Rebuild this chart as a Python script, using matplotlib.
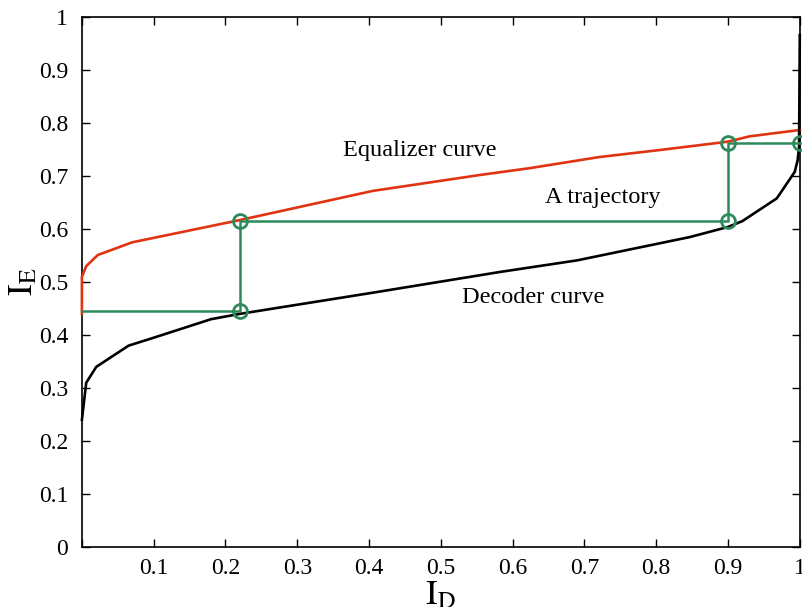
import numpy as np
import matplotlib
matplotlib.use("Agg")
import matplotlib.pyplot as plt

plt.rcParams['font.family'] = ['Liberation Serif', 'DejaVu Serif']
plt.rcParams['mathtext.fontset'] = 'stix'

# equalizer curve (red)
eq_x = [0.0, 0.0, 0.006, 0.022, 0.07, 0.22, 0.405, 0.554, 0.624, 0.721, 0.81, 0.9, 0.93, 1.0]
eq_y = [0.44, 0.51, 0.53, 0.551, 0.575, 0.617, 0.672, 0.702, 0.715, 0.736, 0.75, 0.765, 0.775, 0.787]

# decoder curve (black)
dec_x = [0.0, 0.006, 0.02, 0.065, 0.1, 0.18, 0.22, 0.41, 0.582, 0.69, 0.847, 0.9, 0.92, 0.968, 0.993, 0.997, 0.999, 1.0]
dec_y = [0.24, 0.31, 0.34, 0.38, 0.395, 0.43, 0.44, 0.481, 0.519, 0.541, 0.585, 0.604, 0.615, 0.658, 0.708, 0.73, 0.755, 0.966]

# trajectory (green)
tr_x = [0.0, 0.22, 0.22, 0.9, 0.9, 1.0]
tr_y = [0.445, 0.445, 0.615, 0.615, 0.762, 0.762]

xticks = [0.0, 0.1, 0.2, 0.3, 0.4, 0.5, 0.6, 0.7, 0.8, 0.9, 1.0]
xticklabels = ['', '0.1', '0.2', '0.3', '0.4', '0.5', '0.6', '0.7', '0.8', '0.9', '1']
yticks = [0.0, 0.1, 0.2, 0.3, 0.4, 0.5, 0.6, 0.7, 0.8, 0.9, 1.0]
yticklabels = ['0', '0.1', '0.2', '0.3', '0.4', '0.5', '0.6', '0.7', '0.8', '0.9', '1']

red = '#e03312'
green = '#2e8a5a'

fig = plt.figure(figsize=(8.03, 6.07), dpi=100)
ax = fig.add_axes([0.102, 0.0988, 0.894, 0.873])

ax.plot(eq_x, eq_y, color=red, lw=1.9, clip_on=False, zorder=3)
ax.plot(dec_x, dec_y, color='black', lw=1.9, clip_on=False, zorder=3)
ax.plot(tr_x, tr_y, color=green, lw=1.8, clip_on=False, zorder=4)
ax.plot(tr_x[1:], tr_y[1:], 'o', mfc='none', mec=green, mew=2, ms=10, clip_on=False, zorder=5)

ax.text(0.471, 0.749, 'Equalizer curve', fontsize=17.5, ha='center', va='center')
ax.text(0.726, 0.66, 'A trajectory', fontsize=17.5, ha='center', va='center')
ax.text(0.628, 0.47, 'Decoder curve', fontsize=17.5, ha='center', va='center')

ax.set_xlim(0, 1)
ax.set_ylim(0, 1)
ax.set_xticks(xticks)
ax.set_xticklabels(xticklabels)
ax.set_yticks(yticks)
ax.set_yticklabels(yticklabels)
ax.tick_params(direction='in', top=True, right=True, length=6, width=1, labelsize=17)
ax.tick_params(axis='y', pad=10)
ax.tick_params(axis='x', pad=8)
for s in ax.spines.values():
    s.set_linewidth(1.2)

ax.set_xlabel(r'$\mathrm{I_D}$', fontsize=25, labelpad=0)
ax.set_ylabel(r'$\mathrm{I_E}$', fontsize=25, labelpad=-1)

fig.savefig('out.png', dpi=100)
